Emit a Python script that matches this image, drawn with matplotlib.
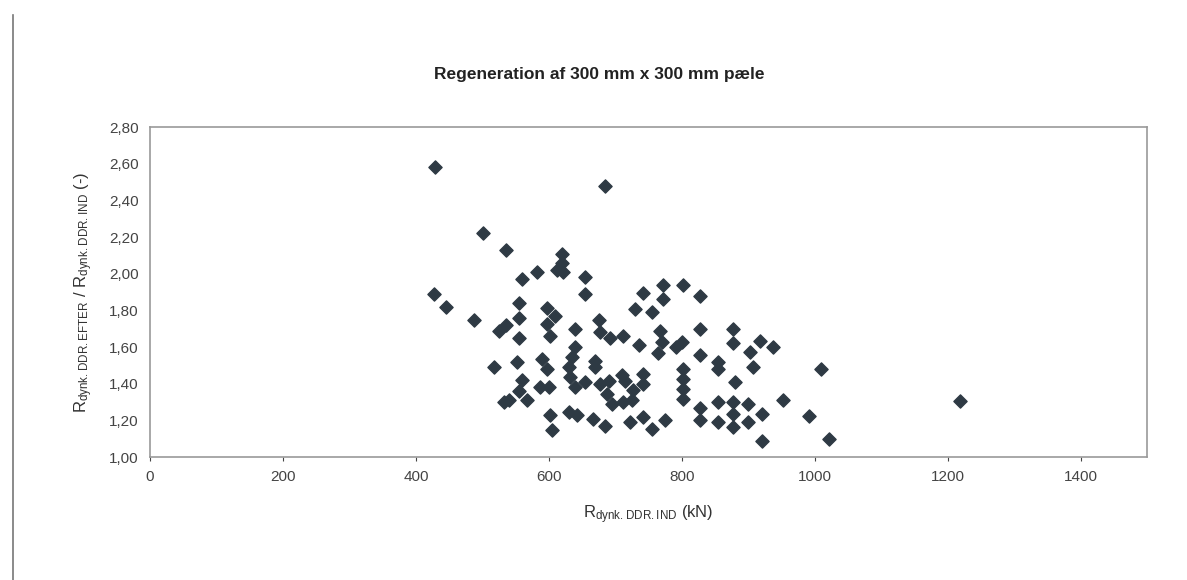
import matplotlib.pyplot as plt
from matplotlib.lines import Line2D

plt.rcParams['font.family'] = ['Liberation Sans', 'DejaVu Sans']

# R_dynk.DDR.IND (kN) and ratio EFTER/IND
r_ind = [429, 684, 501, 536, 620, 620, 612, 622, 582, 559, 654, 654,
         427, 445, 487, 525, 535, 517,
         555, 555, 555, 552, 560, 555, 540, 567, 532,
         597, 610, 597, 602, 590, 597, 587, 600, 602, 605,
         640, 640, 635, 630, 632, 640, 630, 642, 655,
         675, 677, 712, 692, 670, 670, 677, 690, 687, 710, 715,
         695, 712, 727, 725, 667, 685, 722, 742, 755, 775,
         742, 730, 755, 735, 742, 742,
         772, 772, 802, 767, 770, 765, 792, 800, 802, 802, 802, 802,
         827, 827, 827, 827, 827,
         855, 855, 855, 855,
         877, 877, 880, 877, 877, 877,
         902, 907, 900, 900, 918, 937, 920, 920, 952, 992, 1010, 1022, 1219]
ratio = [2.58, 2.48, 2.22, 2.13, 2.11, 2.06, 2.02, 2.01, 2.01, 1.97, 1.98, 1.89,
         1.89, 1.82, 1.75, 1.69, 1.72, 1.49,
         1.84, 1.76, 1.65, 1.52, 1.42, 1.36, 1.31, 1.31, 1.30,
         1.815, 1.77, 1.725, 1.66, 1.535, 1.48, 1.38, 1.38, 1.228, 1.146,
         1.70, 1.60, 1.544, 1.49, 1.435, 1.38, 1.245, 1.228, 1.41,
         1.75, 1.68, 1.66, 1.65, 1.526, 1.49, 1.40, 1.417, 1.345, 1.445, 1.417,
         1.29, 1.30, 1.363, 1.31, 1.21, 1.17, 1.19, 1.218, 1.155, 1.20,
         1.896, 1.806, 1.79, 1.61, 1.454, 1.40,
         1.94, 1.86, 1.94, 1.69, 1.63, 1.57, 1.60, 1.625, 1.48, 1.427, 1.372, 1.318,
         1.88, 1.70, 1.555, 1.27, 1.20,
         1.52, 1.48, 1.30, 1.19,
         1.70, 1.62, 1.41, 1.30, 1.236, 1.164,
         1.571, 1.49, 1.29, 1.19, 1.634, 1.60, 1.236, 1.09, 1.31, 1.224, 1.48, 1.098, 1.305]

x_ticks = [0, 200, 400, 600, 800, 1000, 1200, 1400]
y_ticks = [1.0, 1.2, 1.4, 1.6, 1.8, 2.0, 2.2, 2.4, 2.6, 2.8]
y_labels = ['1,00', '1,20', '1,40', '1,60', '1,80', '2,00', '2,20', '2,40', '2,60', '2,80']

fig = plt.figure(figsize=(11.87, 5.8), dpi=100)
ax = fig.add_axes([0.1264, 0.212, 0.8399, 0.569])

ax.scatter(r_ind, ratio, marker='D', s=45, color='#2e3a44', edgecolors='#2e3a44', zorder=3)

ax.set_xlim(0, 1500)
ax.set_ylim(1.0, 2.8)
ax.set_xticks(x_ticks)
ax.set_yticks(y_ticks)
ax.set_yticklabels(y_labels)
ax.tick_params(axis='both', labelsize=11, colors='#444444', length=3, pad=6)
ax.tick_params(axis='y', length=0, pad=8)
for s in ax.spines.values():
    s.set_color('#999999')
    s.set_linewidth(1.2)

ax.set_xlabel(r'$\mathregular{R_{dynk.DDR.IND}}$ (kN)', fontsize=12, color='#333333', labelpad=14)
ax.set_ylabel(r'$\mathregular{R_{dynk.DDR.EFTER}}$ / $\mathregular{R_{dynk.DDR.IND}}$ (-)',
              fontsize=12, color='#333333', labelpad=10)
fig.text(0.505, 0.872, 'Regeneration af 300 mm x 300 mm pæle', ha='center', va='center',
         fontsize=12.5, fontweight='bold', color='#222222')

# left edge of the scanned chart area
fig.lines.append(Line2D([0.011, 0.011], [0.0, 0.975], transform=fig.transFigure,
                        color='#777777', linewidth=1.2))

fig.savefig('out.png', dpi=100)
